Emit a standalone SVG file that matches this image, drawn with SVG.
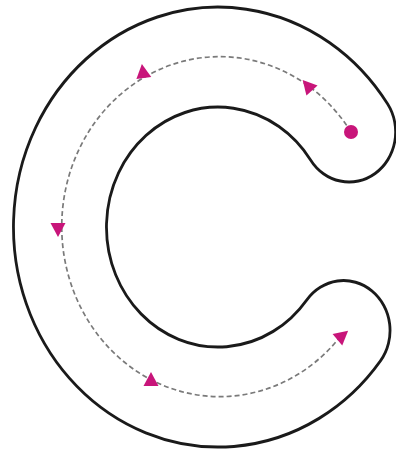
<svg xmlns="http://www.w3.org/2000/svg" width="396" height="453" viewBox="0 0 396 453">
  <style>
    .edge { fill: none; stroke: #1a1a1a; stroke-width: 103; stroke-linecap: round; }
    .band { fill: none; stroke: #ffffff; stroke-width: 97; stroke-linecap: round; }
    .trace { fill: none; stroke: #7a7a7a; stroke-width: 1.7; stroke-dasharray: 5 3; }
    .mark { fill: #c8157a; }
  </style>
  <defs>
    <polygon id="tri" points="0,-8 7.5,6 -7.5,6"/>
  </defs>
  <rect width="396" height="453" fill="#ffffff"/>
  <g id="letter-c" transform="translate(218 227) scale(0.93 1)">
    <path class="edge" d="M 141 -95 A 170 170 0 1 0 135 103.5"/>
    <path class="band" d="M 141 -95 A 170 170 0 1 0 135 103.5"/>
  </g>
  <g id="connectors">
    <path class="trace" d="M 351 132 A 158 170 0 1 0 343 333"/>
  </g>
  <g id="start-dot">
    <circle class="mark" cx="351" cy="132" r="7"/>
  </g>
  <g id="arrows">
    <use href="#tri" class="mark" transform="translate(308 86) rotate(-42)"/>
    <use href="#tri" class="mark" transform="translate(143 72) rotate(-8)"/>
    <use href="#tri" class="mark" transform="translate(58 229) rotate(180)"/>
    <use href="#tri" class="mark" transform="translate(151 380)"/>
    <use href="#tri" class="mark" transform="translate(342 336) rotate(50)"/>
  </g>
</svg>
